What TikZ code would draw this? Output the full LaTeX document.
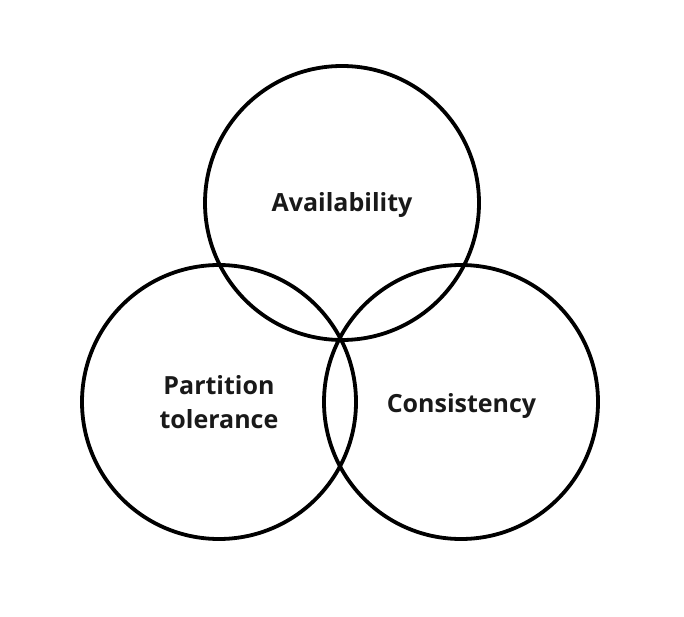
\documentclass[tikz,border=0pt]{standalone}
\usepackage{fontspec}
\setmainfont{Open Sans}
\begin{document}
\begin{tikzpicture}[x=1pt,y=1pt,
  setcircle/.style={draw=black,line width=3.8pt,circle,minimum size=274pt,inner sep=0pt},
  setlabel/.style={font=\bfseries\fontsize{25}{34}\selectfont,align=center,text=black!90,anchor=base,inner sep=0pt}]
  \useasboundingbox (0,0) rectangle (684,616);
  % the three overlapping sets
  \node[setcircle] (avail) at (342,413) {};
  \node[setcircle] (part) at (219,214) {};
  \node[setcircle] (cons) at (461,214) {};
  % set names, placed on their (last) baselines
  \node[setlabel] (availtext) at (342,404) {Availability};
  \node[setlabel] (parttext) at (219,188) {Partition\\tolerance};
  \node[setlabel] (constext) at (461.5,204) {Consistency};
\end{tikzpicture}
\end{document}
